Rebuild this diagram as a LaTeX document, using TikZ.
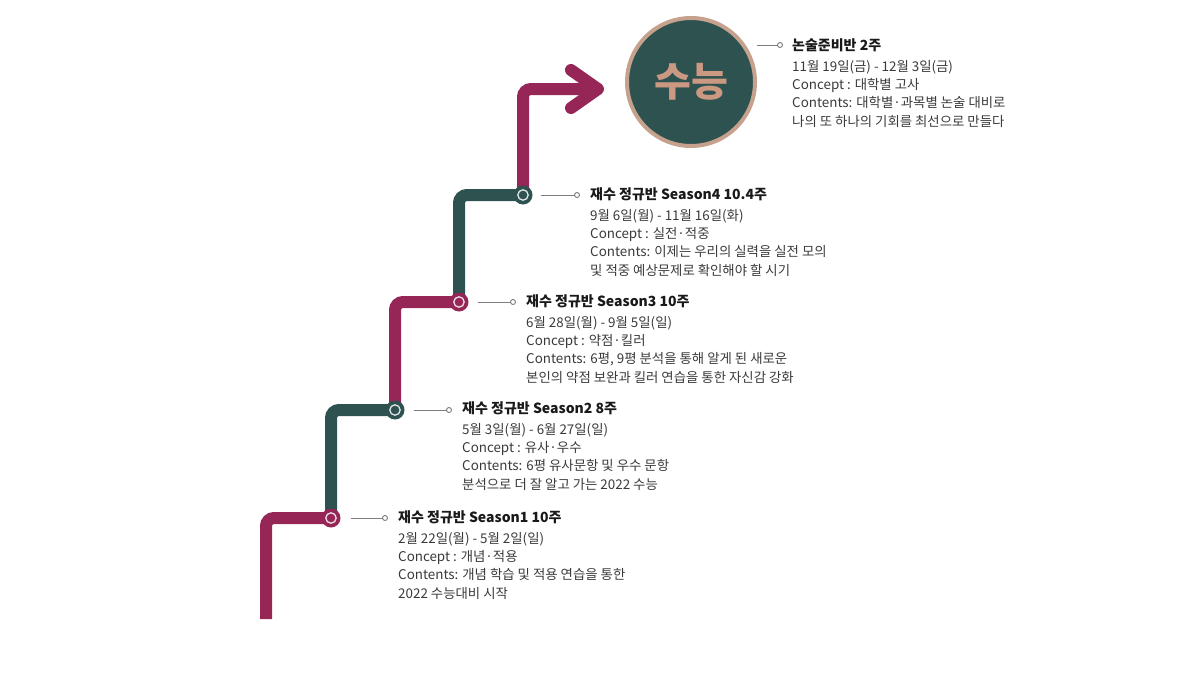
\documentclass[tikz,border=0pt]{standalone}
\usepackage{fontspec}
\setmainfont{Noto Sans CJK KR}
\usetikzlibrary{positioning}
\definecolor{plum}{RGB}{150,38,86}
\definecolor{pine}{RGB}{45,82,80}
\definecolor{sand}{RGB}{198,162,142}
\definecolor{clay}{RGB}{203,152,130}
\definecolor{ink}{RGB}{58,58,58}
\definecolor{wire}{RGB}{125,125,125}
\tikzset{
    track/.style={line width=12pt, rounded corners=8pt, #1},
    stop/.style={circle, fill=#1, minimum size=19pt, inner sep=0pt,
        path picture={\draw[white!85!#1, line width=1.3pt] (path picture bounding box.center) circle[radius=5.2pt];}},
    stitle/.style={anchor=west, inner sep=0pt, text=black!90, font=\fontsize{14}{16}\selectfont\bfseries},
    sbody/.style={align=left, inner sep=0pt, text=ink, font=\fontsize{13.4}{18.4}\selectfont},
    leader/.style={draw=wire, line width=1pt},
    enddot/.style={circle, draw=wire, fill=white, line width=0.9pt, minimum size=5pt, inner sep=0pt}
}
\begin{document}
\begin{tikzpicture}[x=1pt, y=-1pt]
    \useasboundingbox (0,0) rectangle (1200,699);

    \coordinate (start) at (266,619);
    \coordinate (c1) at (331,518);
    \coordinate (c2) at (395,410);
    \coordinate (c3) at (459,302);
    \coordinate (c4) at (523,195);
    \coordinate (tip) at (598,89);

    \draw[track=plum] (start) |- (c1);
    \draw[track=pine] (c1) |- (c2);
    \draw[track=plum] (c2) |- (c3);
    \draw[track=pine] (c3) |- (c4);
    \draw[track=plum] (c4) |- (tip);
    \draw[track=plum, line cap=round, line join=round, rounded corners=0pt] (571,70) -- (tip) -- (571,108);

    \node[stop=plum] (s1) at (c1) {};
    \node[stop=pine] (s2) at (c2) {};
    \node[stop=plum] (s3) at (c3) {};
    \node[stop=pine] (s4) at (c4) {};

    \node[circle, fill=pine, draw=sand, line width=4pt, minimum size=128pt, inner sep=0pt,
        text=clay, font=\fontsize{40}{42}\selectfont\bfseries] (goal) at (691,82) {수능};

    \node[stitle] (t0) at (792,45) {논술준비반 2주};
    \node[sbody, below right=8pt and 0pt of t0.south west] (b0) {11월 19일(금) - 12월 3일(금)\\Concept : 대학별 고사\\Contents: 대학별·과목별 논술 대비로\\나의 또 하나의 기회를 최선으로 만들다};

    \node[stitle] (t4) at (590,194) {재수 정규반 Season4 10.4주};
    \node[sbody, below right=8pt and 0pt of t4.south west] (b4) {9월 6일(월) - 11월 16일(화)\\Concept : 실전·적중\\Contents: 이제는 우리의 실력을 실전 모의\\및 적중 예상문제로 확인해야 할 시기};

    \node[stitle] (t3) at (526,301) {재수 정규반 Season3 10주};
    \node[sbody, below right=8pt and 0pt of t3.south west] (b3) {6월 28일(월) - 9월 5일(일)\\Concept : 약점·킬러\\Contents: 6평, 9평 분석을 통해 알게 된 새로운\\본인의 약점 보완과 킬러 연습을 통한 자신감 강화};

    \node[stitle] (t2) at (462,408) {재수 정규반 Season2 8주};
    \node[sbody, below right=8pt and 0pt of t2.south west] (b2) {5월 3일(월) - 6월 27일(일)\\Concept : 유사·우수\\Contents: 6평 유사문항 및 우수 문항\\분석으로 더 잘 알고 가는 2022 수능};

    \node[stitle] (t1) at (398,517) {재수 정규반 Season1 10주};
    \node[sbody, below right=8pt and 0pt of t1.south west] (b1) {2월 22일(월) - 5월 2일(일)\\Concept : 개념·적용\\Contents: 개념 학습 및 적용 연습을 통한\\2022 수능대비 시작};

    \draw[leader] (goal.east |- t0.west) -- ([xshift=-12pt]t0.west) node[enddot] {};
    \draw[leader] ([xshift=8pt]s4.east) -- ([xshift=-13pt]s4.east -| t4.west) node[enddot] {};
    \draw[leader] ([xshift=9pt]s3.east) -- ([xshift=-13pt]s3.east -| t3.west) node[enddot] {};
    \draw[leader] ([xshift=9pt]s2.east) -- ([xshift=-13pt]s2.east -| t2.west) node[enddot] {};
    \draw[leader] ([xshift=10pt]s1.east) -- ([xshift=-13pt]s1.east -| t1.west) node[enddot] {};
\end{tikzpicture}
\end{document}
